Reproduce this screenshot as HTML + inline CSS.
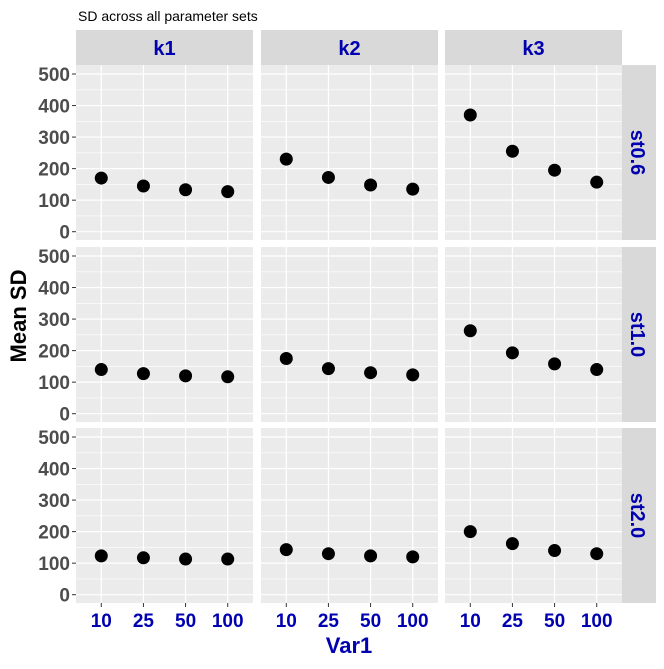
<!DOCTYPE html>
<html><head><meta charset="utf-8"><style>
body{margin:0;background:#fff;}
svg text{font-family:"Liberation Sans",Arial,sans-serif;}
</style></head><body>
<svg id="c" width="664" height="664" xmlns="http://www.w3.org/2000/svg">
<text x="78" y="21" font-size="14" fill="#000">SD across all parameter sets</text>
<text transform="translate(26,316) rotate(-90)" text-anchor="middle" font-size="22" font-weight="bold" fill="#000">Mean SD</text>
<text x="349" y="653" text-anchor="middle" font-size="22" font-weight="bold" fill="#0000b0">Var1</text>
</svg>
<script>
const categories=["10","25","50","100"];
const colFacets=["k1","k2","k3"];
const rowFacets=["st0.6","st1.0","st2.0"];
const yTicks=[0,100,200,300,400,500];
const st06_k1=[170,145,133,127], st06_k2=[230,172,148,135], st06_k3=[370,255,195,157];
const st10_k1=[140,127,120,117], st10_k2=[175,143,130,123], st10_k3=[263,193,158,140];
const st20_k1=[123,117,113,113], st20_k2=[143,130,123,120], st20_k3=[200,162,140,130];
const values=[[st06_k1,st06_k2,st06_k3],[st10_k1,st10_k2,st10_k3],[st20_k1,st20_k2,st20_k3]];
const svg=document.getElementById('c');
const NS="http://www.w3.org/2000/svg";
function mk(t,a,p){const e=document.createElementNS(NS,t);for(const k in a)e.setAttribute(k,a[k]);(p||svg).appendChild(e);return e;}
const colX=[76,261,445], pw=177;
const rowY=[65,247,428], ph=175;
const blue="#0000b0";
function xs(c,i){return colX[c]+pw*(0.6+i)/4.2;}
function ys(r,v){const y0=rowY[r]+ph-8.3,y1=rowY[r]+9;return y0-(v/500)*(y0-y1);}
colFacets.forEach((f,c)=>{
 const r=mk('rect',{x:colX[c],y:30,width:pw,height:35,fill:'#d9d9d9'});
 
 
 const t=mk('text',{x:colX[c]+pw/2,y:55,'text-anchor':'middle','font-size':20,'font-weight':'bold',fill:blue});
 t.textContent=f;
 
 
 categories.forEach((cat,i)=>{
  mk('line',{x1:xs(c,i),x2:xs(c,i),y1:603,y2:607,stroke:'#333','stroke-width':1});
  const tt=mk('text',{x:xs(c,i),y:627,'text-anchor':'middle','font-size':19,'font-weight':'bold',fill:blue});
  tt.textContent=cat;
  
  
 });
});
rowFacets.forEach((f,r)=>{
 const s=mk('rect',{x:622,y:rowY[r],width:34,height:ph,fill:'#d9d9d9'});
 
 
 const t=mk('text',{transform:`translate(631,${rowY[r]+ph/2}) rotate(90)`,'text-anchor':'middle','font-size':20,'font-weight':'bold',fill:blue});
 t.textContent=f;
 
 
 yTicks.forEach(v=>{
  mk('line',{x1:72,x2:76,y1:ys(r,v),y2:ys(r,v),stroke:'#333','stroke-width':1});
  const yt=mk('text',{x:70,y:ys(r,v)+7,'text-anchor':'end','font-size':19,'font-weight':'bold',fill:'#4d4d4d'});
  yt.textContent=v;
  
  
 });
 colFacets.forEach((cf,c)=>{
  const p=mk('rect',{x:colX[c],y:rowY[r],width:pw,height:ph,fill:'#ebebeb'});
  
  
  for(let v=50;v<=550;v+=100){const y=ys(r,v);if(y>rowY[r])mk('line',{x1:colX[c],x2:colX[c]+pw,y1:y,y2:y,stroke:'#fff','stroke-width':0.6});}
  yTicks.forEach(v=>mk('line',{x1:colX[c],x2:colX[c]+pw,y1:ys(r,v),y2:ys(r,v),stroke:'#fff','stroke-width':1.2}));
  categories.forEach((cat,i)=>mk('line',{x1:xs(c,i),x2:xs(c,i),y1:rowY[r],y2:rowY[r]+ph,stroke:'#fff','stroke-width':1.2}));
  values[r][c].forEach((v,i)=>{
   const pt=mk('circle',{cx:xs(c,i),cy:ys(r,v),r:6.5,fill:'#000'});
   
   
  });
 });
});
</script>
</body></html>
